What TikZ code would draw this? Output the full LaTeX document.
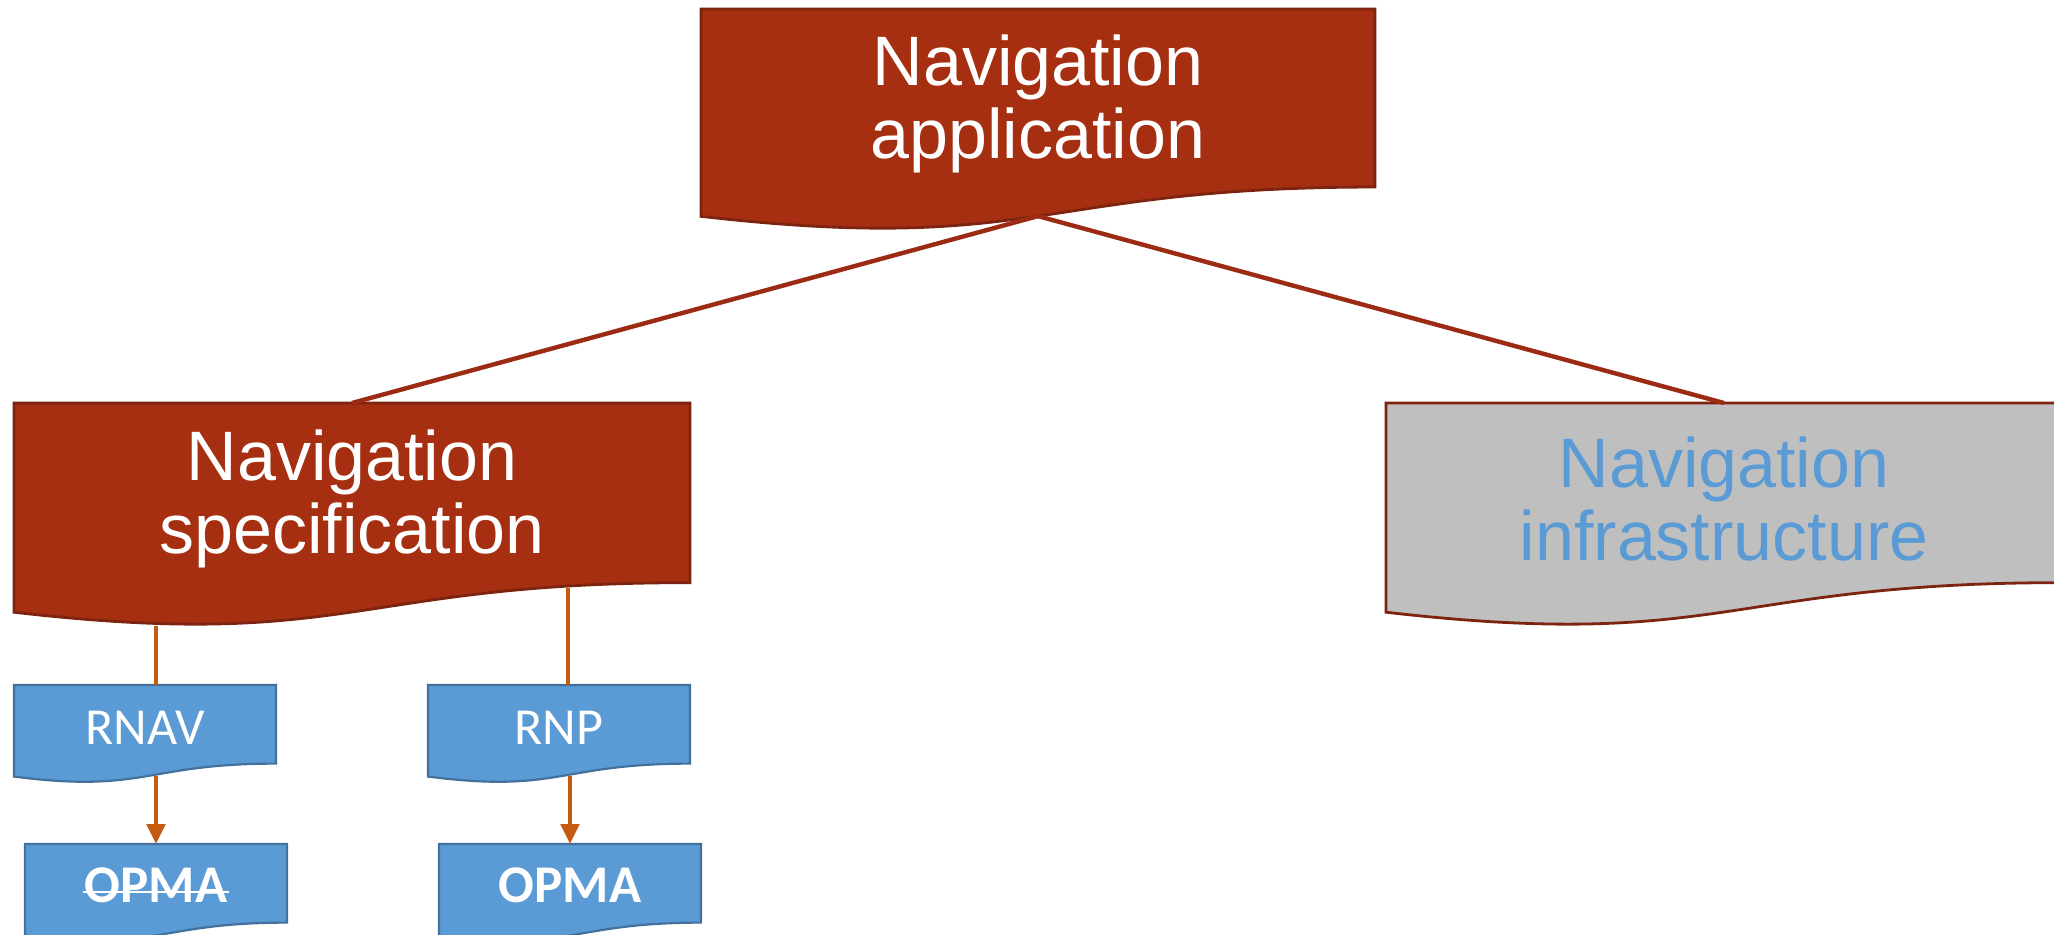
\documentclass[tikz,border=0pt]{standalone}
\usepackage{fontspec}
\setmainfont{Liberation Sans}
\newfontfamily\calfont{Carlito}
\newcommand\mystrike[1]{\setbox0\hbox{#1}\hspace*{-1pt}\rlap{\rule[0.17em]{\dimexpr\wd0+2pt\relax}{1.3pt}}\hspace*{1pt}\box0}
\usetikzlibrary{arrows.meta}
\definecolor{rust}{HTML}{A52F10}
\definecolor{rustline}{HTML}{7C2410}
\definecolor{connred}{HTML}{9B2B12}
\definecolor{greybox}{HTML}{BFBFBF}
\definecolor{bluebox}{HTML}{5B9BD5}
\definecolor{blueline}{HTML}{41719C}
\definecolor{orangeline}{HTML}{C55A11}
% name, x, y, w, h, shape style, node style, text
\newcommand\mydocshape[8]{%
  \path[#6] (#2,#3) -- ({#2+#4},#3) -- ({#2+#4},{#3+0.802*#5})
    .. controls ({#2+0.5*#4},{#3+0.802*#5}) and ({#2+0.5*#4},{#3+1.1075*#5}) .. (#2,{#3+0.934*#5}) -- cycle;
  \node[minimum width={#4*0.5pt}, minimum height={0.802*#5*0.5pt}, inner sep=0pt, #7] (#1) at ({#2+0.5*#4},{#3+0.401*#5}) {#8};
  \coordinate (#1-top) at ({#2+0.5*#4},#3);
  \coordinate (#1-wave) at ({#2+0.5*#4},{#3+0.933*#5});
}
\tikzset{
  redshape/.style={fill=rust, draw=rustline, line width=1.4pt},
  greyshape/.style={fill=greybox, draw=rustline, line width=1.4pt},
  blueshape/.style={fill=bluebox, draw=blueline, line width=1.1pt},
  bigtext/.style={text=white, align=center, font=\fontsize{35}{36.5}\selectfont, yshift=-3pt},
  smalltext/.style={text=white, font=\calfont\fontsize{26}{30}\selectfont, yshift=-2pt},
  boldtext/.style={text=white, font=\calfont\bfseries\fontsize{26.5}{30}\selectfont, yshift=-1pt},
  toplink/.style={draw=connred, line width=2.2pt},
  orangelink/.style={draw=orangeline, line width=2.4pt},
  arrowlink/.style={orangelink, -{Triangle[width=9pt,length=10pt]}}
}
\begin{document}
\begin{tikzpicture}[x=0.5pt,y=-0.5pt]
\clip (0,0) rectangle (2054,935);
\fill[white] (0,0) rectangle (2054,935);
\mydocshape{app}{701}{9}{674}{222}{redshape}{bigtext}{Navigation\\application}
\mydocshape{spec}{14}{403}{676}{224}{redshape}{bigtext}{Navigation\\specification}
\mydocshape{infra}{1386}{403}{676}{224}{greyshape}{bigtext, text=bluebox}{Navigation\\infrastructure}
\mydocshape{rnav}{14}{685}{262}{98}{blueshape}{smalltext}{RNAV}
\mydocshape{rnp}{428}{685}{262}{98}{blueshape}{smalltext}{RNP}
\mydocshape{opmaL}{25}{844}{262}{98}{blueshape}{boldtext}{\mystrike{OPMA}}
\mydocshape{opmaR}{439}{844}{262}{98}{blueshape}{boldtext}{OPMA}
\draw[toplink] (app-wave) -- (spec-top);
\draw[toplink] (app-wave) -- (infra-top);
\coordinate (specL) at (156,626);
\coordinate (specR) at (568,588);
\draw[orangelink] (specL) -- (rnav-top -| specL);
\draw[orangelink] (specR) -- (rnp-top -| specR);
\draw[arrowlink] (rnav-wave -| opmaL-top) -- (opmaL-top);
\draw[arrowlink] (rnp-wave -| opmaR-top) -- (opmaR-top);
\end{tikzpicture}
\end{document}
